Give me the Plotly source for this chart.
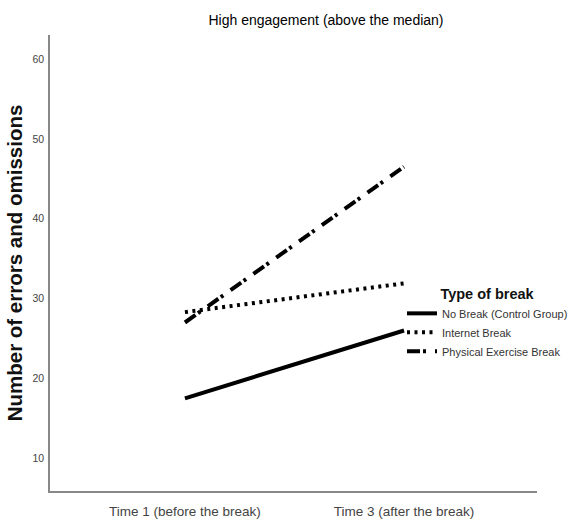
import plotly.graph_objects as go

categories = ["Time 1 (before the break)", "Time 3 (after the break)"]
series_names = ["No Break (Control Group)", "Internet Break", "Physical Exercise Break"]
no_break = [17.5, 26.0]
internet_break = [28.3, 31.9]
physical_break = [27.0, 46.5]
y_ticks = [10, 20, 30, 40, 50, 60]

FONT = "Liberation Sans, Arial, sans-serif"

styles = [
    dict(color="black", width=4, dash="solid"),
    dict(color="black", width=4, dash="3px,4.5px"),
    dict(color="black", width=4, dash="13px,3px,3px,9px"),
]

fig = go.Figure()
xpos = list(range(len(categories)))
for name, vals, st in zip(series_names, [no_break, internet_break, physical_break], styles):
    fig.add_trace(go.Scatter(x=xpos, y=vals, mode="lines", name=name, line=st,
                             hoverinfo="skip"))

fig.update_layout(
    width=572, height=524,
    margin=dict(l=50, r=35, t=35, b=33, autoexpand=False),
    paper_bgcolor="white", plot_bgcolor="white",
    title=dict(text="High engagement (above the median)", x=326/572, xref="container",
               xanchor="center", y=1 - 20/524, yref="container", yanchor="middle",
               automargin=False,
               font=dict(family=FONT, size=14, color="#000")),
    xaxis=dict(range=[-0.616, 1.607], tickvals=xpos, ticktext=categories,
               showgrid=False, zeroline=False, showline=True, linecolor="#888", linewidth=1.5,
               ticks="", ticklabelstandoff=7, automargin=False,
               tickfont=dict(family=FONT, size=13.5, color="#444")),
    yaxis=dict(range=[5.9, 63.0], tickvals=y_ticks, showgrid=False, zeroline=False,
               showline=True, linecolor="#888", linewidth=1.5, ticks="",
               ticklabelstandoff=2, automargin=False,
               tickfont=dict(family=FONT, size=10.5, color="#444"),
               title=dict(text="Number of errors and omissions", standoff=4,
                          font=dict(family=FONT, size=20.5, color="#111", weight="bold"))),
    legend=dict(x=(402 - 50) / 487, xanchor="left", y=(491 - 280) / 456, yanchor="top",
                bgcolor="rgba(0,0,0,0)",
                title=dict(text="<b>Type of break</b>", side="top center",
                           font=dict(family=FONT, size=14.5, color="#111")),
                font=dict(family=FONT, size=11, color="#333"),
                tracegroupgap=0),
    showlegend=True,
)

fig.write_html("out.html", config={"displayModeBar": False},
               post_script="document.body.style.margin='0';")
